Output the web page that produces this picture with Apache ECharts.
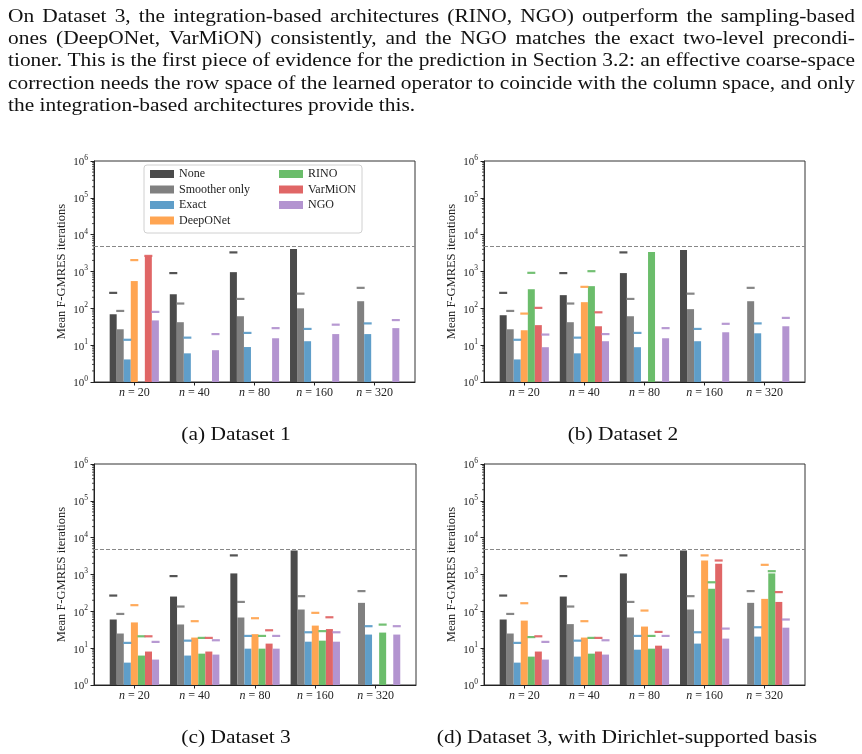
<!DOCTYPE html>
<html><head><meta charset="utf-8">
<script src="https://cdn.jsdelivr.net/npm/echarts@6/dist/echarts.min.js"></script>
<style>html,body{margin:0;padding:0;background:#fff}#c{width:862px;height:754px}</style>
</head><body><div id="c"></div>
<script>
// ---------------- data ----------------
const nValues = ['20', '40', '80', '160', '320'];
const methods = ['None', 'Smoother only', 'Exact', 'DeepONet', 'RINO', 'VarMiON', 'NGO'];
const maxIterations = 5000;
const yTickValues = [1, 10, 100, 1000, 10000, 100000, 1000000];

// Dataset 1 (mean, and upper marker)
const d1None = [69, 241, 960, 4070, null];
const d1NoneMax = [263, 905, 3300, null, null];
const d1Smoother = [27, 42, 61, 100, 156];
const d1SmootherMax = [85, 135, 180, 250, 360];
const d1Exact = [4.1, 6.0, 8.9, 12.8, 20];
const d1ExactMax = [14, 16, 21.5, 27.6, 39];
const d1DeepONet = [550, null, null, null, null];
const d1DeepONetMax = [2040, null, null, null, null];
const d1RINO = [null, null, null, null, null];
const d1RINOMax = [null, null, null, null, null];
const d1VarMiON = [2630, null, null, null, null];
const d1VarMiONMax = [2650, null, null, null, null];
const d1NGO = [47, 7.3, 15.4, 20, 29];
const d1NGOMax = [80, 20, 29, 36, 48];

// Dataset 2
const d2None = [65, 228, 905, 3820, null];
const d2NoneMax = [263, 905, 3300, null, null];
const d2Smoother = [27, 42, 61, 95, 156];
const d2SmootherMax = [85, 135, 180, 250, 360];
const d2Exact = [4.1, 6.0, 8.8, 12.8, 21];
const d2ExactMax = [14, 16, 21.5, 27.6, 39];
const d2DeepONet = [25.4, 147, null, null, null];
const d2DeepONetMax = [72, 383, null, null, null];
const d2RINO = [330, 400, 3370, null, null];
const d2RINOMax = [920, 1020, null, null, null];
const d2VarMiON = [35, 32.6, null, null, null];
const d2VarMiONMax = [103, 78, null, null, null];
const d2NGO = [8.8, 12.8, 15.4, 22.4, 32.6];
const d2NGOMax = [19.4, 20, 29, 38, 55];

// Dataset 3
const d3None = [60, 252, 1070, 4500, null];
const d3NoneMax = [268, 905, 3300, null, null];
const d3Smoother = [25, 44, 68, 112, 170];
const d3SmootherMax = [85, 135, 180, 258, 354];
const d3Exact = [4.05, 6.3, 9.7, 15, 23.4];
const d3ExactMax = [13.9, 16, 21.5, 27, 39.5];
const d3DeepONet = [50, 19.4, 24, 41, null];
const d3DeepONetMax = [147, 54, 65, 91, null];
const d3RINO = [6.3, 7.1, 9.7, 16, 26.5];
const d3RINOMax = [21, 19, 21.5, 29, 43.6];
const d3VarMiON = [8.1, 8.1, 13.3, 33, null];
const d3VarMiONMax = [21, 19, 30.6, 69, null];
const d3NGO = [4.9, 6.7, 9.7, 15, 23.4];
const d3NGOMax = [14.8, 16.4, 21.5, 27, 39.5];

// Dataset 3, Dirichlet-supported basis
const d4None = [60, 252, 1070, 4500, null];
const d4NoneMax = [268, 905, 3300, null, null];
const d4Smoother = [25, 45, 68, 112, 170];
const d4SmootherMax = [85, 135, 180, 258, 354];
const d4Exact = [4.05, 5.9, 9.1, 13.3, 20.6];
const d4ExactMax = [13.9, 16, 21.5, 27, 37];
const d4DeepONet = [56, 19.4, 38.6, 2400, 218];
const d4DeepONetMax = [166, 54, 105, 3300, 1830];
const d4RINO = [5.9, 7.1, 9.7, 410, 1070];
const d4RINOMax = [20, 19, 21.5, 615, 1230];
const d4VarMiON = [8.1, 8.1, 11.7, 1960, 180];
const d4VarMiONMax = [21, 19, 27.6, 2400, 333];
const d4NGO = [4.9, 6.7, 9.7, 18.2, 36];
const d4NGOMax = [14.8, 16.4, 21.5, 34, 60];

const captions = ['(a) Dataset 1', '(b) Dataset 2', '(c) Dataset 3', '(d) Dataset 3, with Dirichlet-supported basis'];
const paragraphLines = [
  'On Dataset 3, the integration-based architectures (RINO, NGO) outperform the sampling-based',
  'ones (DeepONet, VarMiON) consistently, and the NGO matches the exact two-level precondi-',
  'tioner. This is the first piece of evidence for the prediction in Section 3.2: an effective coarse-space',
  'correction needs the row space of the learned operator to coincide with the column space, and only',
  'the integration-based architectures provide this.'
];

// ---------------- styling / layout ----------------
const colors = ['#4b4b4b', '#808080', '#5f9ec9', '#ffa552', '#6bbd6b', '#e06666', '#b394d0'];
const panels = [
  {means: [d1None, d1Smoother, d1Exact, d1DeepONet, d1RINO, d1VarMiON, d1NGO],
   maxes: [d1NoneMax, d1SmootherMax, d1ExactMax, d1DeepONetMax, d1RINOMax, d1VarMiONMax, d1NGOMax],
   grid: {left: 94, top: 161, width: 321, height: 221}, cap: [236, 435]},
  {means: [d2None, d2Smoother, d2Exact, d2DeepONet, d2RINO, d2VarMiON, d2NGO],
   maxes: [d2NoneMax, d2SmootherMax, d2ExactMax, d2DeepONetMax, d2RINOMax, d2VarMiONMax, d2NGOMax],
   grid: {left: 484, top: 161, width: 321, height: 221}, cap: [623, 435]},
  {means: [d3None, d3Smoother, d3Exact, d3DeepONet, d3RINO, d3VarMiON, d3NGO],
   maxes: [d3NoneMax, d3SmootherMax, d3ExactMax, d3DeepONetMax, d3RINOMax, d3VarMiONMax, d3NGOMax],
   grid: {left: 94, top: 464, width: 322, height: 221}, cap: [236, 738]},
  {means: [d4None, d4Smoother, d4Exact, d4DeepONet, d4RINO, d4VarMiON, d4NGO],
   maxes: [d4NoneMax, d4SmootherMax, d4ExactMax, d4DeepONetMax, d4RINOMax, d4VarMiONMax, d4NGOMax],
   grid: {left: 484, top: 464, width: 321, height: 221}, cap: [627, 738]}
];
const serif = '"Liberation Serif", "DejaVu Serif", serif';
const xMin = -0.67, xMax = 4.67;
const barStep = 0.117;   // bar width in group units
const barPx = 7;

const grids = [], xAxes = [], yAxes = [], series = [];
panels.forEach((p, g) => {
  grids.push(Object.assign({show: true, borderColor: '#333', borderWidth: 1, outerBoundsMode: 'none'}, p.grid));
  xAxes.push({
    type: 'value', gridIndex: g, min: xMin, max: xMax,
    axisLine: {show: true, onZero: false, lineStyle: {color: '#222', width: 1}},
    axisTick: {show: true, customValues: [0, 1, 2, 3, 4], length: 3.5, lineStyle: {color: '#222'}},
    axisLabel: {show: true, customValues: [0, 1, 2, 3, 4], margin: 5,
      formatter: v => '{it|n} = ' + nValues[Math.round(v)],
      color: '#222', fontFamily: serif, fontSize: 12,
      rich: {it: {fontStyle: 'italic', fontFamily: serif, fontSize: 12, color: '#222'}}},
    splitLine: {show: false}
  });
  yAxes.push({
    type: 'log', logBase: 10, gridIndex: g, min: 1, max: 1000000,
    name: 'Mean F-GMRES iterations', nameLocation: 'middle', nameGap: 26, nameRotate: 90,
    nameTextStyle: {fontFamily: serif, fontSize: 12.5, color: '#222'},
    axisLine: {show: true, onZero: false, lineStyle: {color: '#222', width: 1}},
    axisTick: {show: true, customValues: yTickValues, length: 3.5, lineStyle: {color: '#222'}},
    axisLabel: {show: true, customValues: yTickValues, margin: 6, color: '#222',
      formatter: v => '{b|10}{s|' + Math.round(Math.log10(v)) + '}',
      rich: {b: {fontFamily: serif, fontSize: 11, color: '#222', lineHeight: 14, verticalAlign: 'bottom'},
             s: {fontFamily: serif, fontSize: 7.5, color: '#222', lineHeight: 14, verticalAlign: 'top'}}},
    splitLine: {show: false}
  });
  // minor log ticks
  const minor = [];
  for (let e = 0; e < 6; e++) for (let k = 2; k <= 9; k++) minor.push([xMin, k * Math.pow(10, e)]);
  series.push({
    type: 'custom', xAxisIndex: g, yAxisIndex: g, silent: true, clip: false, z: 5,
    data: minor,
    renderItem: (params, api) => {
      const pt = api.coord([api.value(0), api.value(1)]);
      return {type: 'line', shape: {x1: pt[0] - 2, y1: pt[1], x2: pt[0], y2: pt[1]},
              style: {stroke: '#222', lineWidth: 0.8}};
    }
  });
  methods.forEach((m, s) => {
    const off = (s - 3) * barStep;
    const bars = [], marks = [];
    p.means[s].forEach((v, i) => { if (v != null) bars.push([i + off, v]); });
    p.maxes[s].forEach((v, i) => { if (v != null) marks.push([i + off, v]); });
    const barSeries = {
      type: 'bar', name: m, xAxisIndex: g, yAxisIndex: g, barWidth: barPx, barGap: '-100%',
      itemStyle: {color: colors[s]}, data: bars, silent: true, z: 2
    };
    if (s === 0) {
      barSeries.markLine = {symbol: 'none', silent: true, label: {show: false},
        lineStyle: {type: [4, 2], color: '#888', width: 1}, data: [{yAxis: maxIterations}]};
    }
    series.push(barSeries);
    series.push({
      type: 'scatter', xAxisIndex: g, yAxisIndex: g, symbol: 'rect', symbolSize: [8, 2.2],
      itemStyle: {color: colors[s], opacity: 0.95}, data: marks, silent: true, z: 4
    });
  });
});

// paragraph (justified) + captions
const graphics = [];
const ctx = document.createElement('canvas').getContext('2d');
const paraFont = 18;
ctx.font = paraFont + 'px "Liberation Serif"';
const textLeft = 8, textRight = 855;
const lineYs = [17, 39.3, 61.6, 84, 106.3];
const spaceW = ctx.measureText(' ').width;
// horizontal stretch so that Times-like glyphs fill the lines like the original serif face
let stretch = 10;
paragraphLines.slice(0, 4).forEach(line => {
  const w = ctx.measureText(line).width;
  stretch = Math.min(stretch, (textRight - textLeft) / w);
});
paragraphLines.forEach((line, li) => {
  const words = line.split(' ');
  const widths = words.map(w => ctx.measureText(w).width * stretch);
  const total = widths.reduce((a, b) => a + b, 0);
  const last = li === paragraphLines.length - 1;
  const gap = last ? spaceW * stretch : (textRight - textLeft - total) / (words.length - 1);
  let x = textLeft;
  words.forEach((w, i) => {
    graphics.push({type: 'text', x: x, y: lineYs[li], scaleX: stretch, silent: true,
      style: {text: w, fontFamily: serif, fontSize: paraFont, fill: '#111', align: 'left', verticalAlign: 'middle'}});
    x += widths[i] + gap;
  });
});
panels.forEach((p, g) => {
  graphics.push({type: 'text', x: p.cap[0], y: p.cap[1], scaleX: stretch, silent: true,
    style: {text: captions[g], fontFamily: serif, fontSize: paraFont, fill: '#111', align: 'center', verticalAlign: 'middle'}});
});
// legend frame
graphics.push({type: 'rect', shape: {x: 144, y: 165, width: 218, height: 68, r: 3}, z: 10, silent: true,
  style: {fill: 'rgba(255,255,255,0.85)', stroke: '#d0d0d0', lineWidth: 1}});

const legendText = {fontFamily: serif, fontSize: 12, color: '#222'};
const option = {
  animation: false,
  backgroundColor: '#fff',
  grid: grids, xAxis: xAxes, yAxis: yAxes, series: series,
  graphic: {elements: graphics},
  legend: [
    {data: methods.slice(0, 4), orient: 'vertical', left: 150, top: 168, itemWidth: 24, itemHeight: 8,
     itemGap: 3.5, icon: 'rect', textStyle: legendText, selectedMode: false, z: 20, padding: 0},
    {data: methods.slice(4), orient: 'vertical', left: 279, top: 168, itemWidth: 24, itemHeight: 8,
     itemGap: 3.5, icon: 'rect', textStyle: legendText, selectedMode: false, z: 20, padding: 0}
  ]
};
const chart = echarts.init(document.getElementById('c'), null, {renderer: 'canvas'});
chart.setOption(option);
</script>
</body></html>
